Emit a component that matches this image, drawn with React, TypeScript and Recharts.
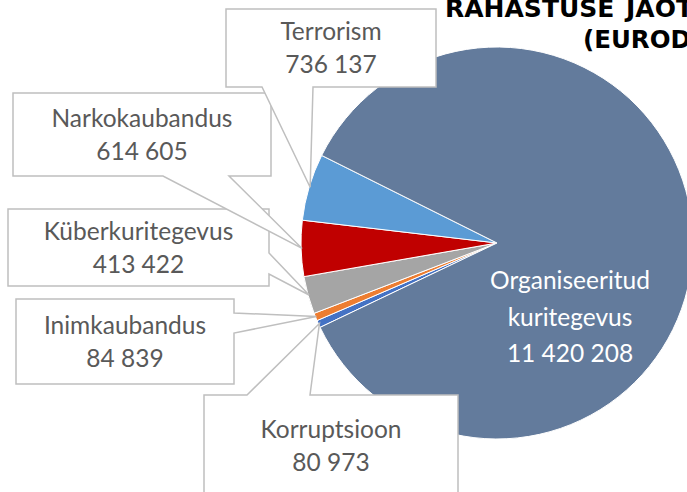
import { PieChart, Pie, Cell } from 'recharts'

const names = ['Korruptsioon', 'Inimkaubandus', 'Küberkuritegevus', 'Narkokaubandus', 'Terrorism', 'Organiseeritud kuritegevus']
const amounts = [80973, 84839, 413422, 614605, 736137, 11420208]
const colors = ['#4472C4', '#ED7D31', '#A5A5A5', '#C00000', '#5B9BD5', '#637B9C']
const titleLines = ['RAHASTUSE JAOTUS', '(EURODES)']

// callout boxes: [x, y, w, h], side where the pointer leaves, pointer base a..b
const callouts: any[] = [
  { box: [204, 395, 254, 102], side: 'top', a: 247, b: 310 },
  { box: [16, 299, 218, 85], side: 'right', a: 313, b: 333 },
  { box: [8, 209, 261, 77], side: 'right', a: 253, b: 274 },
  { box: [13, 93, 258, 83], side: 'bottom', a: 163, b: 229 },
  { box: [226, 9, 210, 78], side: 'bottom', a: 262, b: 313 },
  null
]

const data = names.map((name, i) => ({ name, value: amounts[i] }))

const fmt = (v: number) => v.toString().replace(/\B(?=(\d{3})+(?!\d))/g, ' ')
const RAD = Math.PI / 180
const FONT = 'Lato, sans-serif'
const TITLE_FONT = '"DejaVu Sans", sans-serif'

function calloutPath(c: any, tx: number, ty: number) {
  const [x, y, w, h] = c.box
  const r = x + w
  const btm = y + h
  if (c.side === 'bottom') {
    return `M${x},${y} L${r},${y} L${r},${btm} L${c.b},${btm} L${tx},${ty} L${c.a},${btm} L${x},${btm} Z`
  }
  if (c.side === 'right') {
    return `M${x},${y} L${r},${y} L${r},${c.a} L${tx},${ty} L${r},${c.b} L${r},${btm} L${x},${btm} Z`
  }
  return `M${x},${y} L${c.a},${y} L${tx},${ty} L${c.b},${y} L${r},${y} L${r},${btm} L${x},${btm} Z`
}

const renderLabel = (props: any) => {
  const { cx, cy, midAngle, outerRadius, index, name, value } = props
  const c = callouts[index]
  if (!c) {
    const parts = [...name.split(' '), fmt(value)]
    return (
      <g>
        {parts.map((t: string, i: number) => (
          <text key={i} x={570} y={289 + i * 36.5} textAnchor="middle" fill="#FFFFFF" fontSize={24.5} fontFamily={FONT}>
            {t}
          </text>
        ))}
      </g>
    )
  }
  const tx = cx + (outerRadius - 1) * Math.cos(-midAngle * RAD)
  const ty = cy + (outerRadius - 1) * Math.sin(-midAngle * RAD)
  const [x, y, w, h] = c.box
  const mx = x + w / 2
  const my = y + h / 2
  return (
    <g>
      <path d={calloutPath(c, tx, ty)} fill="#FFFFFF" stroke="#BFBFBF" strokeWidth={1.5} />
      <text x={mx} y={my - 8} textAnchor="middle" fill="#595959" fontSize={24.5} fontFamily={FONT}>
        {name}
      </text>
      <text x={mx} y={my + 25} textAnchor="middle" fill="#595959" fontSize={24.5} fontFamily={FONT}>
        {fmt(value)}
      </text>
    </g>
  )
}

export default function App() {
  return (
    <div style={{ position: 'absolute', left: 0, top: 0, width: 687, height: 492, background: '#fff' }}>
      <PieChart width={687} height={492} margin={{ top: 0, right: 0, bottom: 0, left: 0 }}>
        <Pie
          data={data}
          dataKey="value"
          nameKey="name"
          cx={497}
          cy={243}
          outerRadius={196}
          startAngle={205.5}
          endAngle={-154.5}
          stroke="#FFFFFF"
          strokeWidth={1}
          label={renderLabel}
          labelLine={false}
          isAnimationActive={false}
        >
          {data.map((d, i) => (
            <Cell key={d.name} fill={colors[i]} />
          ))}
        </Pie>
        <text x={445} y={17} fill="#000" fontSize={25} fontWeight={700} fontFamily={TITLE_FONT} wordSpacing={3}>
          {titleLines[0]}
        </text>
        <text x={583} y={48} fill="#000" fontSize={24.5} fontWeight={700} fontFamily={TITLE_FONT}>
          {titleLines[1]}
        </text>
      </PieChart>
    </div>
  )
}
